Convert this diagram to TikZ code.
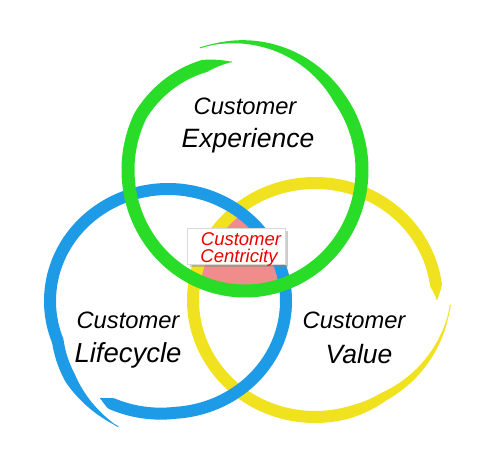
\documentclass[tikz,border=0pt]{standalone}
\usepackage{fontspec}
\setmainfont{Liberation Sans}
\usetikzlibrary{shadows}
\definecolor{cgreen}{RGB}{40,220,40}
\definecolor{cblue}{RGB}{30,155,230}
\definecolor{cyellow}{RGB}{240,226,30}
\definecolor{cpink}{RGB}{240,140,140}
\definecolor{cred}{RGB}{235,0,0}
\newcommand\ringset[9]{\def\rCX{#1}\def\rCY{#2}\def\rRX{#3}\def\rRY{#4}\def\rAS{#5}\def\rAE{#6}\def\rGS{#7}\def\rGE{#8}\def\rW{#9}}
\newcommand\ringtaper[4]{\def\rSW{#1}\def\rEW{#2}\def\rTS{#3}\def\rTE{#4}}
\newcommand\ringdraw[1]{%
 \fill[#1] plot[domain=0:1,samples=300,variable=\x]
  ({\rCX+(\rRX*rf(\x)+wf(\x)/2)*cos(\rAS+(\rAE-\rAS)*\x)},{\rCY+(\rRY*rf(\x)+wf(\x)/2)*sin(\rAS+(\rAE-\rAS)*\x)})
  -- plot[domain=0:1,samples=300,variable=\x]
  ({\rCX+(\rRX*rf(1-\x)-wf(1-\x)/2)*cos(\rAS+(\rAE-\rAS)*(1-\x))},{\rCY+(\rRY*rf(1-\x)-wf(1-\x)/2)*sin(\rAS+(\rAE-\rAS)*(1-\x))}) -- cycle;}
\begin{document}
\begin{tikzpicture}[x=1pt,y=-1pt,
  declare function={rf(\u)=1+(\rGS)*max(0,1-\u/\rSW)+(\rGE)*max(0,(\u-1+\rEW)/\rEW);
                    wf(\u)=\rW*min(1,max(0.08,\u/\rTS))*min(1,max(0.08,(1-\u)/\rTE));},
  lbl/.style={inner sep=0pt, anchor=base, text=black},
  cbox/.style={fill=white, draw=gray!30, line width=0.5pt, inner sep=0pt,
     drop shadow={shadow xshift=2.5pt, shadow yshift=-2.5pt, opacity=0.4}},
  ctext/.style={inner sep=0pt, anchor=base, text=cred}]
\useasboundingbox (0,0) rectangle (500,473);
\fill[white] (0,0) rectangle (500,473);
% pink intersection
\begin{scope}
\clip (245,170) ellipse [x radius=117pt, y radius=121pt];
\clip (168,301) ellipse [x radius=118pt, y radius=112pt];
\fill[cpink] (315,300) ellipse [x radius=122pt, y radius=117pt];
\end{scope}
% yellow
\ringset{315}{300}{122}{117}{2}{360}{0.11}{0}{12}
\ringtaper{0.15}{0.1}{0.2}{0.02}
\ringdraw{cyellow}
% blue
\ringset{168}{301}{118}{112}{123.6}{-249.5}{0.04}{0.2}{12}
\ringtaper{0.1}{0.13}{0.015}{0.08}
\ringdraw{cblue}
% green
\ringset{245}{170}{117}{121}{-111}{263}{0.08}{-0.1}{13}
\ringtaper{0.2}{0.15}{0.2}{0.04}
\ringdraw{cgreen}
% labels
\node[lbl, font=\fontsize{23.7}{26}\selectfont\itshape] (ce1) at (245,115) {Customer};
\node[lbl, font=\fontsize{26.5}{29}\selectfont\itshape] (ce2) at (248,148) {Experience};
\node[lbl, font=\fontsize{23.7}{26}\selectfont\itshape] (cl1) at (128,328) {Customer};
\node[lbl, font=\fontsize{27.5}{30}\selectfont\itshape] (cl2) at (128,362) {Lifecycle};
\node[lbl, font=\fontsize{23.7}{26}\selectfont\itshape] (cv1) at (354,328) {Customer};
\node[lbl, font=\fontsize{26.5}{29}\selectfont\itshape] (cv2) at (359,363) {Value};
% centricity box
\node[cbox, minimum width=98pt, minimum height=36pt] (cc) at (236,246) {};
\node[ctext, font=\fontsize{18.5}{20}\selectfont\itshape] (cc1) at (241,245) {Customer};
\node[ctext, font=\fontsize{18.5}{20}\selectfont\itshape] (cc2) at (239,262) {Centricity};
\end{tikzpicture}
\end{document}
